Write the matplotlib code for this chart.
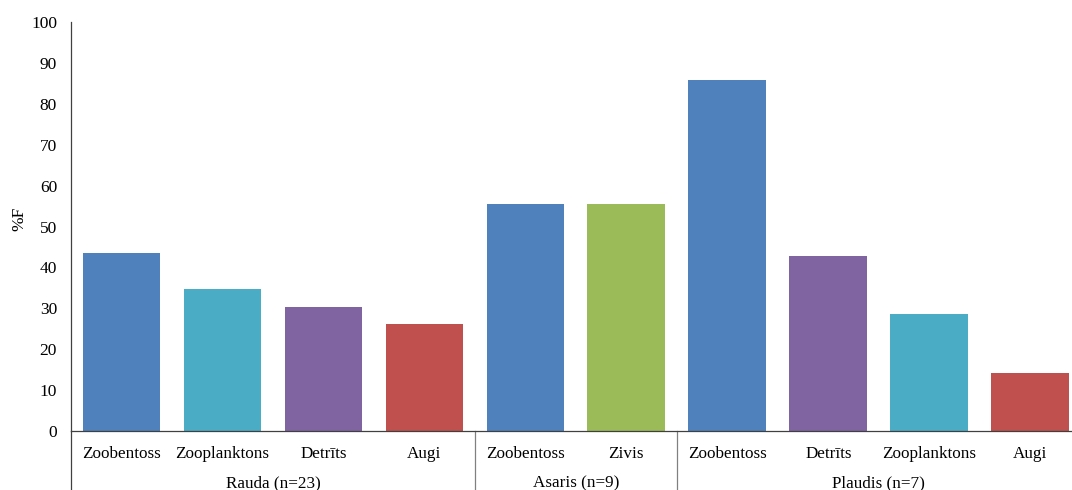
import matplotlib.pyplot as plt
import matplotlib.transforms as mtransforms

plt.rcParams['font.family'] = ['Liberation Serif', 'DejaVu Serif']

categories = ['Zoobentoss', 'Zooplanktons', 'Detrīts', 'Augi',
              'Zoobentoss', 'Zivis',
              'Zoobentoss', 'Detrīts', 'Zooplanktons', 'Augi']
values = [43.5, 34.8, 30.4, 26.1,
          55.6, 55.6,
          85.7, 42.9, 28.6, 14.3]
groups = ['Rauda (n=23)', 'Asaris (n=9)', 'Plaudis (n=7)']
group_sizes = [4, 2, 4]

blue, teal, purple, red, green = '#4F81BD', '#4BACC6', '#8064A2', '#C0504D', '#9BBB59'
colors = [blue, teal, purple, red, blue, green, blue, purple, teal, red]

fig = plt.figure(figsize=(10.72, 4.9), dpi=100)
ax = fig.add_axes([0.0662, 0.1204, 0.942, 0.8347])

x = list(range(len(values)))
ax.bar(x, values, width=0.77, color=colors)

ax.set_xlim(-0.5, len(values) - 0.5)
ax.set_ylim(0, 100)
ax.set_yticks(range(0, 101, 10))
ax.tick_params(axis='y', length=0, labelsize=12.5, pad=10)
ax.tick_params(axis='x', length=0, labelsize=12.3, pad=11)
ax.set_xticks(x)
ax.set_xticklabels(categories)
ax.set_ylabel('%F', fontsize=12.5)
ax.yaxis.set_label_coords(-0.043, 0.52)

for s in ['top', 'right']:
    ax.spines[s].set_visible(False)
for s in ['left', 'bottom']:
    ax.spines[s].set_color('#404040')
    ax.spines[s].set_linewidth(0.9)

# group separators and group labels under the axis
trans = mtransforms.blended_transform_factory(ax.transData, ax.transAxes)
start = -0.5
bounds = [start]
for n in group_sizes:
    start += n
    bounds.append(start)
for b in bounds[:-1]:
    ax.plot([b, b], [0, -0.16], transform=trans, color='#808080' if b > -0.5 else '#404040',
            lw=0.9, clip_on=False)
for i, g in enumerate(groups):
    mid = (bounds[i] + bounds[i + 1]) / 2
    ax.text(mid, -0.127, g, transform=trans, ha='center', va='center', fontsize=12.3)

fig.savefig('out.png', dpi=100)
